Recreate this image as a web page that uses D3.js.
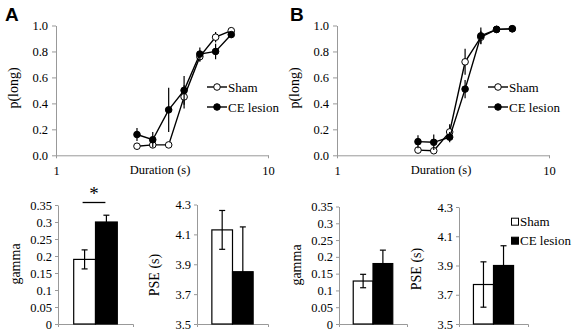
<!DOCTYPE html>
<html>
<head>
<meta charset="utf-8">
<script src="https://cdn.jsdelivr.net/npm/d3@7"></script>
<style>
  body { margin: 0; background: #fff; }
  svg { display: block; }
  .axis path, .axis line { stroke: #999; }
</style>
</head>
<body>
<div id="chart"></div>
<script>
// durations (s), shared by both psychometric panels
var durations = [2.41, 2.86, 3.40, 4.02, 4.77, 5.66, 6.71];

// panel A, p(long)
var shamA = [0.07, 0.08, 0.08, 0.45, 0.76, 0.91, 0.96];
var shamAErr = [0.01, 0.02, 0.01, 0.09, 0.04, 0.04, 0.01];
var ceA = [0.16, 0.12, 0.35, 0.50, 0.78, 0.80, 0.93];
var ceAErr = [0.05, 0.06, 0.17, 0.11, 0.05, 0.06, 0.02];

// panel B, p(long)
var shamB = [0.04, 0.035, 0.18, 0.72, 0.91, 0.97, 0.975];
var shamBErr = [0.01, 0.01, 0.06, 0.10, 0.05, 0.01, 0.01];
var ceB = [0.105, 0.10, 0.14, 0.51, 0.92, 0.97, 0.975];
var ceBErr = [0.05, 0.06, 0.04, 0.07, 0.065, 0.01, 0.01];

var groups = ["Sham", "CE lesion"];
var gammaA = [0.19, 0.30], gammaAErr = [0.028, 0.02];
var pseA = [4.13, 3.85], pseAErr = [0.13, 0.30];
var gammaB = [0.128, 0.18], gammaBErr = [0.02, 0.04];
var pseB = [3.77, 3.90], pseBErr = [0.155, 0.135];

var pTicks = [0, 0.2, 0.4, 0.6, 0.8, 1.0];
var gammaTicks = [0, 0.05, 0.1, 0.15, 0.2, 0.25, 0.3, 0.35];
var pseTicks = [3.5, 3.7, 3.9, 4.1, 4.3];

var SERIF = "'Liberation Serif', 'Times New Roman', 'DejaVu Serif', serif";

var svg = d3.select("#chart").append("svg")
    .attr("width", 577)
    .attr("height", 334)
    .style("font-family", SERIF);

function styleAxis(sel) {
    sel.attr("font-family", null).attr("font-size", null);
    sel.selectAll("text")
        .style("font-family", SERIF)
        .style("font-size", "12.5px")
        .attr("fill", "#000");
}

function linePanel(label, lx, x0, x1, sham, shamErr, ce, ceErr) {
    var x = d3.scaleLog().domain([1, 10]).range([x0, x1]);
    var y = d3.scaleLinear().domain([0, 1]).range([155.3, 25.5]);
    var g = svg.append("g");

    g.append("g").attr("class", "axis")
        .attr("transform", "translate(" + x0 + ",0)")
        .call(d3.axisLeft(y).tickValues(pTicks).tickFormat(d3.format(".1f")).tickSize(4).tickSizeOuter(0))
        .call(styleAxis)
        .selectAll("text").attr("dx", "-1");

    g.append("g").attr("class", "axis")
        .attr("transform", "translate(0," + y(0) + ")")
        .call(d3.axisBottom(x).tickValues([1, 10]).tickFormat(d3.format("d")).tickSize(3).tickSizeOuter(0))
        .call(styleAxis)
        .selectAll("text").attr("dy", "1.1em");

    g.append("text")
        .attr("x", (x0 + x1) / 2 - 2)
        .attr("y", 174)
        .attr("text-anchor", "middle")
        .style("font-family", SERIF)
        .style("font-size", "12.5px")
        .text("Duration (s)");

    g.append("text")
        .attr("transform", "translate(" + (x0 - 38) + ",88) rotate(-90)")
        .attr("text-anchor", "middle")
        .style("font-family", SERIF)
        .style("font-size", "14px")
        .text("p(long)");

    g.append("text")
        .attr("x", lx)
        .attr("y", 21)
        .style("font-family", "'Liberation Sans', Arial, sans-serif")
        .style("font-weight", "bold")
        .style("font-size", "19px")
        .text(label);

    var series = [
        { vals: sham, err: shamErr, fill: "#fff" },
        { vals: ce, err: ceErr, fill: "#000" }
    ];
    var line = d3.line()
        .x(function (d, i) { return x(durations[i]); })
        .y(function (d) { return y(d); });

    series.forEach(function (s) {
        g.append("g").selectAll("line")
            .data(s.vals)
            .join("line")
            .attr("x1", function (d, i) { return x(durations[i]); })
            .attr("x2", function (d, i) { return x(durations[i]); })
            .attr("y1", function (d, i) { return y(d + s.err[i]); })
            .attr("y2", function (d, i) { return y(d - s.err[i]); })
            .attr("stroke", "#000")
            .attr("stroke-width", 1.2);
        g.append("path")
            .datum(s.vals)
            .attr("d", line)
            .attr("fill", "none")
            .attr("stroke", "#000")
            .attr("stroke-width", 1.4);
        g.append("g").selectAll("circle")
            .data(s.vals)
            .join("circle")
            .attr("cx", function (d, i) { return x(durations[i]); })
            .attr("cy", function (d) { return y(d); })
            .attr("r", 3.3)
            .attr("fill", s.fill)
            .attr("stroke", "#000")
            .attr("stroke-width", 1);
    });

    // legend
    var lgx = x1 - 61;
    [{ name: "Sham", fill: "#fff", yy: 87 }, { name: "CE lesion", fill: "#000", yy: 107 }].forEach(function (d) {
        g.append("line")
            .attr("x1", lgx).attr("x2", lgx + 20)
            .attr("y1", d.yy).attr("y2", d.yy)
            .attr("stroke", "#000").attr("stroke-width", 1.4);
        g.append("circle")
            .attr("cx", lgx + 10).attr("cy", d.yy).attr("r", 3.3)
            .attr("fill", d.fill).attr("stroke", "#000");
        g.append("text")
            .attr("x", lgx + 21)
            .attr("y", d.yy + 4.5)
            .style("font-family", SERIF)
            .style("font-size", "13px")
            .text(d.name);
    });
}

function barPanel(x0, x1, yTop, domain, ticks, fmt, vals, errs, ylabel, labelY) {
    var x = d3.scaleBand().domain(groups).range([x0, x1]).paddingInner(0).paddingOuter(0.72);
    var y = d3.scaleLinear().domain(domain).range([324, yTop]);
    var g = svg.append("g");

    g.append("g").attr("class", "axis")
        .attr("transform", "translate(" + x0 + ",0)")
        .call(d3.axisLeft(y).tickValues(ticks).tickFormat(fmt).tickSize(3).tickSizeOuter(0))
        .call(styleAxis);

    g.append("g").attr("class", "axis")
        .attr("transform", "translate(0,324)")
        .call(d3.axisBottom(x).tickValues([]).tickSizeOuter(3));

    g.selectAll("rect")
        .data(vals)
        .join("rect")
        .attr("x", function (d, i) { return x(groups[i]); })
        .attr("y", function (d) { return y(d); })
        .attr("width", x.bandwidth())
        .attr("height", function (d) { return 324 - y(d); })
        .attr("fill", function (d, i) { return i === 0 ? "#fff" : "#000"; })
        .attr("stroke", "#000")
        .attr("stroke-width", 1.2);

    vals.forEach(function (d, i) {
        var cx = x(groups[i]) + x.bandwidth() / 2;
        var eb = g.append("g").attr("stroke", "#000").attr("stroke-width", 1.2);
        eb.append("line").attr("x1", cx).attr("x2", cx).attr("y1", y(d + errs[i])).attr("y2", y(d - errs[i]));
        eb.append("line").attr("x1", cx - 3).attr("x2", cx + 3).attr("y1", y(d + errs[i])).attr("y2", y(d + errs[i]));
        eb.append("line").attr("x1", cx - 3).attr("x2", cx + 3).attr("y1", y(d - errs[i])).attr("y2", y(d - errs[i]));
    });

    g.append("text")
        .attr("transform", "translate(" + (x0 - 38) + "," + labelY + ") rotate(-90)")
        .attr("text-anchor", "middle")
        .style("font-family", SERIF)
        .style("font-size", "14px")
        .text(ylabel);

    return x;
}

linePanel("A", 5, 56, 268, shamA, shamAErr, ceA, ceAErr);
linePanel("B", 290, 337, 549, shamB, shamBErr, ceB, ceBErr);

var gammaFmt = function (d) { return String(+d.toFixed(2)); };
var pseFmt = d3.format(".1f");

var xA = barPanel(58, 133, 205, [0, 0.35], gammaTicks, gammaFmt, gammaA, gammaAErr, "gamma", 264);
barPanel(197, 268, 204.5, [3.5, 4.3], pseTicks, pseFmt, pseA, pseAErr, "PSE (s)", 275);
barPanel(339, 407, 206.5, [0, 0.35], gammaTicks, gammaFmt, gammaB, gammaBErr, "gamma", 265);
barPanel(459, 528, 207, [3.5, 4.3], pseTicks, pseFmt, pseB, pseBErr, "PSE (s)", 269);

// significance marker, panel A gamma
var sx0 = xA("Sham") + xA.bandwidth() / 2 - 2, sx1 = xA("CE lesion") + xA.bandwidth() / 2 - 1;
svg.append("line")
    .attr("x1", sx0).attr("x2", sx1)
    .attr("y1", 202.5).attr("y2", 202.5)
    .attr("stroke", "#000").attr("stroke-width", 1.3);
svg.append("text")
    .attr("x", (sx0 + sx1) / 2)
    .attr("y", 200)
    .attr("text-anchor", "middle")
    .style("font-family", SERIF)
    .style("font-size", "19px")
    .text("*");

// bar legend (panel B)
[{ name: "Sham", fill: "#fff", yy: 221.7 }, { name: "CE lesion", fill: "#000", yy: 240.7 }].forEach(function (d) {
    svg.append("rect")
        .attr("x", 511.5).attr("y", d.yy - 3.5)
        .attr("width", 7).attr("height", 7)
        .attr("fill", d.fill).attr("stroke", "#000").attr("stroke-width", 1);
    svg.append("text")
        .attr("x", 520)
        .attr("y", d.yy + 4.5)
        .style("font-family", SERIF)
        .style("font-size", "13px")
        .text(d.name);
});
</script>
</body>
</html>
